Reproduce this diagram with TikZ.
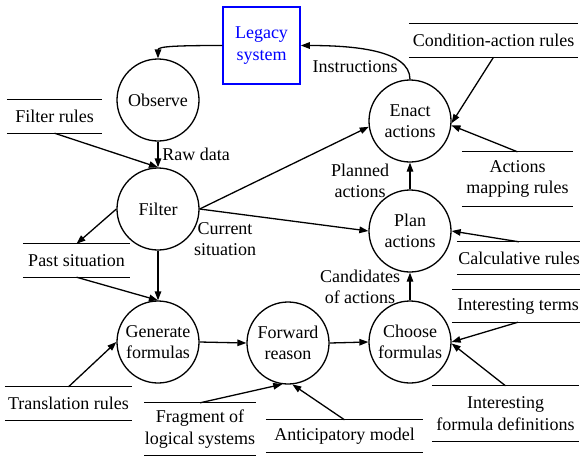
\documentclass[tikz,border=0pt]{standalone}
\usepackage{fontspec}
\setmainfont{Liberation Serif}
\usetikzlibrary{arrows.meta}
\begin{document}
\begin{tikzpicture}[x=1pt,y=-1pt,
  font=\fontsize{18}{21.5}\selectfont,
  proc/.style={circle,draw,line width=1.3pt,minimum size=82pt,inner sep=0pt,align=center},
  storeline/.style={draw,-,line width=1.3pt},
  store/.style={inner sep=0pt,align=center,append after command={
     (\tikzlastnode.north west) edge[storeline] (\tikzlastnode.north east)
     (\tikzlastnode.south west) edge[storeline] (\tikzlastnode.south east)}},
  arr/.style={draw,line width=1.3pt,-{Triangle[length=9pt,width=6.5pt]}},
  lbl/.style={align=center,inner sep=0pt},
  legacybox/.style={draw=blue,text=blue,line width=1.5pt,minimum width=77pt,minimum height=77pt,inner sep=0pt,align=center},
]
\useasboundingbox (0,0) rectangle (580,456);

% external entity
\node[legacybox] (legacy) at (261.5,45.5) {Legacy\\system};

% processes
\node[proc] (observe)  at (158,100) {Observe};
\node[proc] (filter)   at (158,209) {Filter};
\node[proc] (generate) at (158,342) {Generate\\formulas};
\node[proc] (forward)  at (288,343) {Forward\\reason};
\node[proc] (choose)   at (410,342) {Choose\\formulas};
\node[proc] (plan)     at (410,231) {Plan\\actions};
\node[proc] (enact)    at (410,121) {Enact\\actions};

% data stores
\node[store,minimum width=95pt,minimum height=33pt]  (frules) at (54.5,116.5) {Filter rules};
\node[store,minimum width=107pt,minimum height=33pt] (past)   at (76.5,260.5) {Past situation};
\node[store,minimum width=127pt,minimum height=33pt] (trans)  at (68.5,403.5) {Translation rules};
\node[store,minimum width=111pt,minimum height=52pt] (frag)   at (200,429) {Fragment of\\logical systems};
\node[store,minimum width=157pt,minimum height=32pt] (antic)  at (344.5,436) {Anticipatory model};
\node[store,minimum width=169pt,minimum height=33pt] (cond)   at (493.5,40.5) {Condition-action rules};
\node[store,minimum width=111pt,minimum height=54pt] (amap)   at (517.5,179) {Actions\\mapping rules};
\node[store,minimum width=124pt,minimum height=32pt] (calc)   at (519,258) {Calculative rules};
\node[store,minimum width=132pt,minimum height=32pt] (iterms) at (518,306) {Interesting terms};
\node[store,minimum width=147pt,minimum height=55pt] (idefs)  at (505.5,413.5) {Interesting\\formula definitions};

% flow labels
\node[lbl] (lraw)   at (196,154) {Raw data};
\node[lbl] (linstr) at (355,67)  {Instructions};
\node[lbl] (lplan)  at (360,181) {Planned\\actions};
\node[lbl] (lcur)   at (225,239) {Current\\situation};
\node[lbl] (lcand)  at (360,287) {Candidates\\of actions};

% flows
\draw[arr] (legacy.west) .. controls +(-45,0) and +(0,-12) .. (observe.north);
\draw[arr] (enact.north) .. controls +(0,-30) and +(50,0) .. (legacy.east);
\draw[arr] (observe.south) -- (filter.north);
\draw[arr] (frules.south) -- (filter.north);
\draw[arr] (filter.west) -- (past.north);
\draw[arr] (past.south) -- (generate.north);
\draw[arr] (filter.south) -- (generate.north);
\draw[arr] (filter.east) -- (enact.188);
\draw[arr] (filter.east) -- (plan.west);
\draw[arr] (plan.north) -- (enact.south);
\draw[arr] (choose.north) -- (plan.south);
\draw[arr] (generate.east) -- (forward.west);
\draw[arr] (forward.east) -- (choose.west);
\draw[arr] (trans.north) -- (generate.west);
\draw[arr] (frag.north) -- (forward.262);
\draw[arr] (antic.north) -- (forward.276);
\draw[arr] (cond.south) -- (enact.357);
\draw[arr] (amap.north) -- (enact.354);
\draw[arr] (calc.north) -- (plan.east);
\draw[arr] (iterms.south) -- (choose.east);
\draw[arr] (idefs.north) -- (choose.358);
\end{tikzpicture}
\end{document}
